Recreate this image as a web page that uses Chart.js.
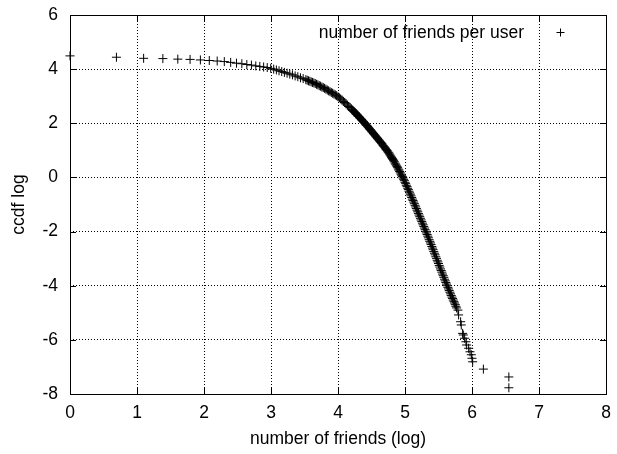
<!DOCTYPE html>
<html>
<head>
<meta charset="utf-8">
<script src="https://cdn.jsdelivr.net/npm/chart.js@4.4.1/dist/chart.umd.min.js"></script>
<style>
  html, body { margin: 0; padding: 0; background: #fff; }
  #wrap { width: 617px; height: 454px; }
</style>
</head>
<body>
<div id="wrap"><canvas id="chart" width="617" height="454"></canvas></div>
<script>
// log(number of friends) and log(ccdf)
const friendsLog = [
  0, 0.693, 1.099, 1.386, 1.609, 1.792, 1.946, 2.079, 2.197, 2.303,
  2.398, 2.485, 2.565, 2.639, 2.708, 2.773, 2.833, 2.890, 2.944, 2.996,
  3.04, 3.08, 3.12, 3.16, 3.20, 3.24, 3.28, 3.32, 3.36, 3.40,
  3.44, 3.48, 3.52, 3.54, 3.56, 3.58, 3.60, 3.62, 3.64, 3.66,
  3.68, 3.70, 3.72, 3.74, 3.76, 3.78, 3.80, 3.82, 3.84, 3.86,
  3.88, 3.90, 3.92, 3.94, 3.96, 3.98, 4.00, 4.02, 4.04, 4.06,
  4.08, 4.10, 4.12, 4.14, 4.16, 4.18, 4.20,
  4.21, 4.22, 4.23, 4.24, 4.25, 4.26, 4.27, 4.28, 4.29, 4.30,
  4.31, 4.32, 4.33, 4.34, 4.35, 4.36, 4.37, 4.38, 4.39, 4.40,
  4.41, 4.42, 4.43, 4.44, 4.45, 4.46, 4.47, 4.48, 4.49, 4.50,
  4.51, 4.52, 4.53, 4.54, 4.55, 4.56, 4.57, 4.58, 4.59, 4.60,
  4.61, 4.62, 4.63, 4.64, 4.65, 4.66, 4.67, 4.68, 4.69, 4.70,
  4.71, 4.72, 4.73, 4.74, 4.75, 4.76, 4.77, 4.78, 4.79, 4.80,
  4.81, 4.82, 4.83, 4.84, 4.85, 4.86, 4.87, 4.88, 4.89, 4.90,
  4.91, 4.92, 4.93, 4.94, 4.95, 4.96, 4.97, 4.98, 4.99, 5.00,
  5.01, 5.02, 5.03, 5.04, 5.05, 5.06, 5.07, 5.08, 5.09, 5.10,
  5.11, 5.12, 5.13, 5.14, 5.15, 5.16, 5.17, 5.18, 5.19, 5.20,
  5.21, 5.22, 5.23, 5.24, 5.25, 5.26, 5.27, 5.28, 5.29, 5.30,
  5.31, 5.32, 5.33, 5.34, 5.35, 5.36, 5.37, 5.38, 5.39, 5.40,
  5.41, 5.42, 5.43, 5.44, 5.45, 5.46, 5.47, 5.48, 5.49, 5.50,
  5.51, 5.52, 5.53, 5.54, 5.55, 5.56, 5.57, 5.58, 5.59, 5.60,
  5.61, 5.62, 5.63, 5.64, 5.65, 5.66, 5.67, 5.68, 5.69, 5.70,
  5.71, 5.72, 5.73, 5.74, 5.75, 5.76, 5.77,
  5.79, 5.80, 5.83, 5.84, 5.86, 5.87, 5.89, 5.91, 5.92, 5.95,
  5.97, 5.99, 6.00, 6.01, 6.17, 6.55, 6.55
];
const ccdfLog = [
  4.49, 4.44, 4.40, 4.39, 4.37, 4.36, 4.34, 4.32, 4.30, 4.28,
  4.25, 4.22, 4.20, 4.17, 4.15, 4.12, 4.10, 4.08, 4.06, 4.03,
  4.00, 3.97, 3.94, 3.91, 3.88, 3.85, 3.82, 3.79, 3.75, 3.72,
  3.68, 3.65, 3.61, 3.59, 3.57, 3.55, 3.53, 3.51, 3.49, 3.47,
  3.44, 3.42, 3.39, 3.37, 3.34, 3.32, 3.29, 3.26, 3.23, 3.20,
  3.17, 3.14, 3.11, 3.08, 3.05, 3.02, 2.98, 2.94, 2.90, 2.86,
  2.81, 2.77, 2.72, 2.67, 2.62, 2.58, 2.53,
  2.50, 2.48, 2.45, 2.43, 2.40, 2.38, 2.35, 2.33, 2.30, 2.27,
  2.25, 2.22, 2.19, 2.17, 2.14, 2.11, 2.08, 2.06, 2.03, 2.00,
  1.97, 1.94, 1.92, 1.89, 1.86, 1.83, 1.80, 1.77, 1.74, 1.71,
  1.68, 1.65, 1.62, 1.59, 1.56, 1.53, 1.50, 1.47, 1.44, 1.41,
  1.38, 1.35, 1.32, 1.29, 1.26, 1.23, 1.19, 1.16, 1.13, 1.10,
  1.06, 1.03, 1.00, 0.97, 0.93, 0.90, 0.86, 0.82, 0.78, 0.74,
  0.70, 0.66, 0.62, 0.58, 0.53, 0.49, 0.45, 0.40, 0.36, 0.31,
  0.27, 0.22, 0.17, 0.12, 0.08, 0.03, -0.02, -0.07, -0.12, -0.18,
  -0.23, -0.29, -0.34, -0.40, -0.45, -0.51, -0.57, -0.62, -0.68, -0.74,
  -0.80, -0.85, -0.91, -0.97, -1.03, -1.09, -1.15, -1.21, -1.27, -1.33,
  -1.39, -1.45, -1.51, -1.57, -1.63, -1.69, -1.75, -1.81, -1.87, -1.93,
  -1.99, -2.05, -2.11, -2.17, -2.23, -2.30, -2.36, -2.42, -2.48, -2.55,
  -2.61, -2.67, -2.74, -2.80, -2.86, -2.93, -2.99, -3.06, -3.12, -3.18,
  -3.25, -3.31, -3.38, -3.44, -3.50, -3.57, -3.63, -3.69, -3.76, -3.82,
  -3.88, -3.94, -4.00, -4.06, -4.12, -4.18, -4.24, -4.30, -4.36, -4.42,
  -4.47, -4.53, -4.59, -4.64, -4.70, -4.76, -4.82,
  -4.90, -5.08, -5.33, -5.45, -5.76, -5.82, -5.94, -6.07, -6.19, -6.31,
  -6.44, -6.55, -6.68, -6.81, -7.08, -7.37, -7.77
];
const xTicks = [0, 1, 2, 3, 4, 5, 6, 7, 8];
const yTicks = [-8, -6, -4, -2, 0, 2, 4, 6];
const seriesLabel = 'number of friends per user';

const FAMILY = '"Liberation Sans", Arial, sans-serif';
const FONT = { family: FAMILY, size: 17.5 };

// gnuplot style: inward ticks on all four sides, solid frame, key at top right
const framePlugin = {
  id: 'frame',
  afterDatasetsDraw(chart) {
    const { ctx, chartArea: a, scales } = chart;
    ctx.save();
    ctx.strokeStyle = '#000';
    ctx.lineWidth = 1;
    ctx.beginPath();
    xTicks.forEach(v => {
      const x = Math.round(scales.x.getPixelForValue(v)) + 0.5;
      ctx.moveTo(x, a.bottom); ctx.lineTo(x, a.bottom - 6);
      ctx.moveTo(x, a.top); ctx.lineTo(x, a.top + 6);
    });
    yTicks.forEach(v => {
      const y = Math.round(scales.y.getPixelForValue(v)) + 0.5;
      ctx.moveTo(a.left, y); ctx.lineTo(a.left + 6, y);
      ctx.moveTo(a.right, y); ctx.lineTo(a.right - 6, y);
    });
    ctx.stroke();
    ctx.strokeRect(Math.round(a.left) + 0.5, Math.round(a.top) + 0.5,
      Math.round(a.right - a.left), Math.round(a.bottom - a.top));

    // key
    ctx.font = FONT.size + 'px ' + FAMILY;
    ctx.fillStyle = '#000';
    ctx.textAlign = 'right';
    ctx.textBaseline = 'middle';
    ctx.fillText(seriesLabel, a.right - 82, a.top + 18);
    const cx = a.right - 45.5, cy = a.top + 17.5;
    ctx.beginPath();
    ctx.moveTo(cx - 4, cy); ctx.lineTo(cx + 4, cy);
    ctx.moveTo(cx, cy - 4); ctx.lineTo(cx, cy + 4);
    ctx.stroke();
    ctx.restore();
  }
};

// keep the plot frame where the reference has it (no extra room for edge labels)
function noEdgePadding(s) {
  s.paddingLeft = 0; s.paddingRight = 0; s.paddingTop = 0; s.paddingBottom = 0;
}

new Chart(document.getElementById('chart'), {
  type: 'scatter',
  data: {
    datasets: [{
      label: seriesLabel,
      data: friendsLog.map((x, i) => ({ x, y: ccdfLog[i] })),
      pointStyle: 'cross',
      pointRadius: 4.5,
      pointBorderWidth: 1,
      borderColor: '#000',
      backgroundColor: '#000',
      clip: false
    }]
  },
  options: {
    responsive: false,
    animation: false,
    layout: { padding: { top: 15, right: 11, left: 0, bottom: 0 } },
    plugins: {
      legend: { display: false },
      tooltip: { enabled: false }
    },
    scales: {
      x: {
        type: 'linear',
        min: 0, max: 8,
        afterFit(s) { s.height = 60; noEdgePadding(s); },
        ticks: { stepSize: 1, color: '#000', font: FONT, padding: 9 },
        grid: { color: '#000', drawTicks: false, lineWidth: 1 },
        border: { display: false, dash: [1, 2] },
        title: { display: true, text: 'number of friends (log)', color: '#000', font: FONT, padding: { top: 0, bottom: 4 } }
      },
      y: {
        type: 'linear',
        min: -8, max: 6,
        afterFit(s) { s.width = 70; noEdgePadding(s); },
        ticks: { stepSize: 2, color: '#000', font: FONT, padding: 12 },
        grid: { color: '#000', drawTicks: false, lineWidth: 1 },
        border: { display: false, dash: [1, 2] },
        title: { display: true, text: 'ccdf log', color: '#000', font: FONT, padding: { top: 8.5, bottom: 0 } }
      }
    }
  },
  plugins: [framePlugin]
});
</script>
</body>
</html>
